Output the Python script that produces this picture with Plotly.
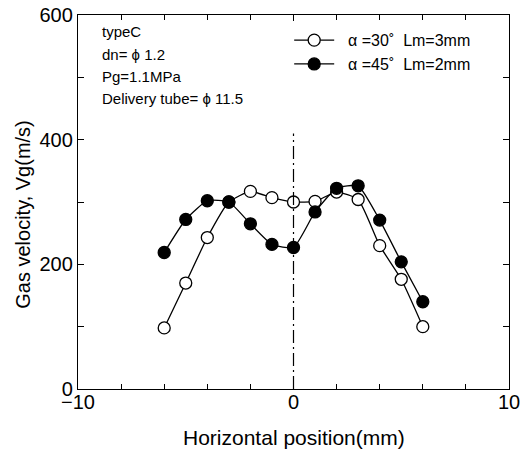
import plotly.graph_objects as go

x_pos = [-6, -5, -4, -3, -2, -1, 0, 1, 2, 3, 4, 5, 6]
vg_a30 = [98, 170, 243, 300, 317, 307, 300, 301, 316, 304, 230, 176, 100]
vg_a45 = [219, 272, 302, 300, 265, 232, 227, 284, 322, 326, 271, 204, 140]
name_a30 = "  α =30˚  Lm=3mm"
name_a45 = "  α =45˚  Lm=2mm"
notes = ["typeC", "dn= ϕ 1.2", "Pg=1.1MPa", "Delivery tube= ϕ 11.5"]
x_title = "Horizontal position(mm)"
y_title = "Gas velocity, Vg(m/s)"

FONT = "Liberation Sans, Arial, sans-serif"

fig = go.Figure()
fig.add_trace(go.Scatter(
    x=x_pos, y=vg_a30, name=name_a30, mode="lines+markers",
    line=dict(color="black", width=1.3, shape="spline", smoothing=0.5),
    marker=dict(symbol="circle", size=12, color="white", line=dict(color="black", width=1.3)),
))
fig.add_trace(go.Scatter(
    x=x_pos, y=vg_a45, name=name_a45, mode="lines+markers",
    line=dict(color="black", width=1.3, shape="spline", smoothing=0.5),
    marker=dict(symbol="circle", size=12, color="black", line=dict(color="black", width=1.3)),
))

fig.add_shape(type="line", x0=0, x1=0, y0=0, y1=410, xref="x", yref="y",
              line=dict(color="black", width=1.2, dash="13px,4px,2px,4px"))

for i, t in enumerate(notes):
    fig.add_annotation(x=0.05, y=0.955 - i * 0.0595, xref="paper", yref="paper",
                       text=t, showarrow=False, xanchor="left", yanchor="middle",
                       font=dict(family=FONT, size=15, color="black"))

fig.add_annotation(x=0.5, y=-0.131, xref="paper", yref="paper", text=x_title,
                   showarrow=False, xanchor="center", yanchor="middle",
                   font=dict(family=FONT, size=21, color="black"))
fig.add_annotation(x=-0.128, y=0.468, xref="paper", yref="paper", text=y_title,
                   textangle=-90, showarrow=False, xanchor="center", yanchor="middle",
                   font=dict(family=FONT, size=20, color="black"))

fig.update_layout(
    width=522, height=450,
    margin=dict(l=78, r=13, t=15, b=61),
    paper_bgcolor="white", plot_bgcolor="white",
    font=dict(family=FONT, color="black"),
    showlegend=True,
    legend=dict(x=0.49, y=0.978, xanchor="left", yanchor="top",
                font=dict(family=FONT, size=16, color="black"),
                bgcolor="rgba(0,0,0,0)", itemwidth=40, tracegroupgap=2),
)
fig.update_xaxes(
    range=[-10, 10], tickvals=[-10, 0, 10], ticktext=["−10", "0", "10"],
    automargin=False, ticklabelstandoff=-5,
    ticks="inside", ticklen=6, tickcolor="black", tickwidth=1,
    minor=dict(tickvals=list(range(-10, 11, 2)), ticks="inside", ticklen=5, tickcolor="black"),
    showline=True, linecolor="black", linewidth=1.3, mirror="ticks",
    showgrid=False, zeroline=False,
    tickfont=dict(family=FONT, size=20, color="black"),
)
fig.update_yaxes(
    range=[0, 600], tickvals=[0, 200, 400, 600],
    automargin=False,
    ticks="inside", ticklen=6, tickcolor="black", tickwidth=1,
    minor=dict(tickvals=list(range(0, 601, 100)), ticks="inside", ticklen=6, tickcolor="black"),
    showline=True, linecolor="black", linewidth=1.3, mirror="ticks",
    showgrid=False, zeroline=False,
    tickfont=dict(family=FONT, size=20, color="black"),
)

fig.write_html("out.html")
